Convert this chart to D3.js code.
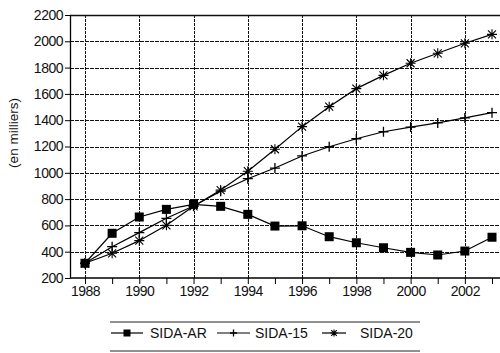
<!DOCTYPE html>
<html>
<head>
<meta charset="utf-8">
<script src="https://cdn.jsdelivr.net/npm/d3@7"></script>
<style>
  body { margin: 0; background: #fff; }
  text { font-family: "Liberation Sans", Arial, sans-serif; fill: #111; }
</style>
</head>
<body>
<div class="chart"></div>
<script>
const years = d3.range(1988, 2004);
const sidaAR = [312, 540, 664, 722, 760, 745, 684, 595, 597, 514, 468, 430, 395, 375, 405, 510];
const sida15 = [312, 438, 545, 654, 748, 860, 955, 1036, 1128, 1198, 1259, 1312, 1348, 1379, 1417, 1457];
const sida20 = [312, 388, 484, 601, 745, 869, 1012, 1179, 1351, 1503, 1640, 1741, 1833, 1909, 1985, 2053];
const seriesNames = ["SIDA-AR", "SIDA-15", "SIDA-20"];
const yTicks = d3.range(200, 2201, 200);
const xLabels = [1988, 1990, 1992, 1994, 1996, 1998, 2000, 2002];

const width = 500, height = 353;
const svg = d3.select('.chart').append('svg')
    .attr("width", width)
    .attr("height", height);

const xScale = d3.scaleLinear().domain([1988, 2003]).range([85, 492]);
const yScale = d3.scaleLinear().domain([200, 2200]).range([278, 15]);
const left = 70, right = 500;

// grid
svg.append("g").selectAll("line")
    .data(yTicks.slice(1))
    .enter().append("line")
    .attr("x1", left).attr("x2", right)
    .attr("y1", d => Math.round(yScale(d)) + 0.5).attr("y2", d => Math.round(yScale(d)) + 0.5)
    .attr("stroke", "#111")
    .attr("stroke-width", d => d == 2200 ? 1.3 : 1)
    .attr("stroke-dasharray", d => d == 2200 ? null : "4,1");

svg.append("g").selectAll("line")
    .data(xLabels)
    .enter().append("line")
    .attr("x1", d => Math.round(xScale(d)) + 0.5).attr("x2", d => Math.round(xScale(d)) + 0.5)
    .attr("y1", yScale(2200)).attr("y2", yScale(200))
    .attr("stroke", "#111")
    .attr("stroke-dasharray", "3,1");

// axes
const yAxis = d3.axisLeft(yScale).tickValues(yTicks).tickSize(5).tickPadding(2).tickSizeOuter(0)
    .tickFormat(d3.format("d"));
const gy = svg.append("g").attr("transform", `translate(${left},0)`).call(yAxis);
gy.select(".domain").attr("stroke-width", 1.3);
gy.selectAll("text").attr("font-size", "14px").attr("font-family", "Liberation Sans, Arial, sans-serif").attr("fill", "#111").attr("letter-spacing", "-0.5px");

const xAxis = d3.axisBottom(xScale).tickValues(years).tickSize(6).tickPadding(2)
    .tickFormat(d => d % 2 == 0 ? d : "");
const gx = svg.append("g").attr("transform", `translate(0,${yScale(200)})`).call(xAxis);
gx.select(".domain").attr("d", `M${left},0H${right}`).attr("stroke-width", 1.3);
gx.selectAll("text").attr("font-size", "14px").attr("font-family", "Liberation Sans, Arial, sans-serif").attr("fill", "#111").attr("letter-spacing", "-0.5px");

svg.append("text")
    .attr("transform", "translate(18,133) rotate(-90)")
    .attr("text-anchor", "middle")
    .attr("font-size", "13.5px")
    .text("(en milliers)");

// lines and markers
const line = d3.line().x((d, i) => xScale(years[i])).y(d => yScale(d));
const allSeries = [sidaAR, sida15, sida20];

function marker(g, kind, x, y, r) {
    if (kind == 0) {
        g.append("rect").attr("x", x - r).attr("y", y - r).attr("width", 2 * r).attr("height", 2 * r).attr("fill", "#000");
    } else if (kind == 1) {
        g.append("path").attr("d", `M${x - r},${y}H${x + r}M${x},${y - r}V${y + r}`).attr("stroke", "#000").attr("stroke-width", 1.3);
    } else {
        const q = r * 0.8;
        g.append("path").attr("d", `M${x - r},${y}H${x + r}M${x},${y - r}V${y + r}M${x - q},${y - q}L${x + q},${y + q}M${x - q},${y + q}L${x + q},${y - q}`).attr("stroke", "#000").attr("stroke-width", 1.1);
    }
}

allSeries.forEach((s, k) => {
    svg.append("path").datum(s)
        .attr("d", line)
        .attr("fill", "none")
        .attr("stroke", "#000")
        .attr("stroke-width", 1.2);
    const g = svg.append("g");
    s.forEach((v, i) => marker(g, k, xScale(years[i]), yScale(v), k == 0 ? 4.5 : 5));
});

// legend
const leg = svg.append("g");
leg.append("line").attr("x1", 110).attr("x2", 420).attr("y1", 322).attr("y2", 322).attr("stroke", "#222");
leg.append("line").attr("x1", 110).attr("x2", 420).attr("y1", 351).attr("y2", 351).attr("stroke", "#222");
const legX = [[111, 143, 150], [217, 250, 255], [322, 346, 360]];
seriesNames.forEach((n, k) => {
    const [a, b, t] = legX[k];
    leg.append("line").attr("x1", a).attr("x2", b).attr("y1", 333).attr("y2", 333).attr("stroke", "#000").attr("stroke-width", 1.2);
    marker(leg, k, (a + b) / 2, 333, 3.5);
    leg.append("text").attr("x", t).attr("y", 338).attr("font-size", "14px").text(n);
});
</script>
</body>
</html>
